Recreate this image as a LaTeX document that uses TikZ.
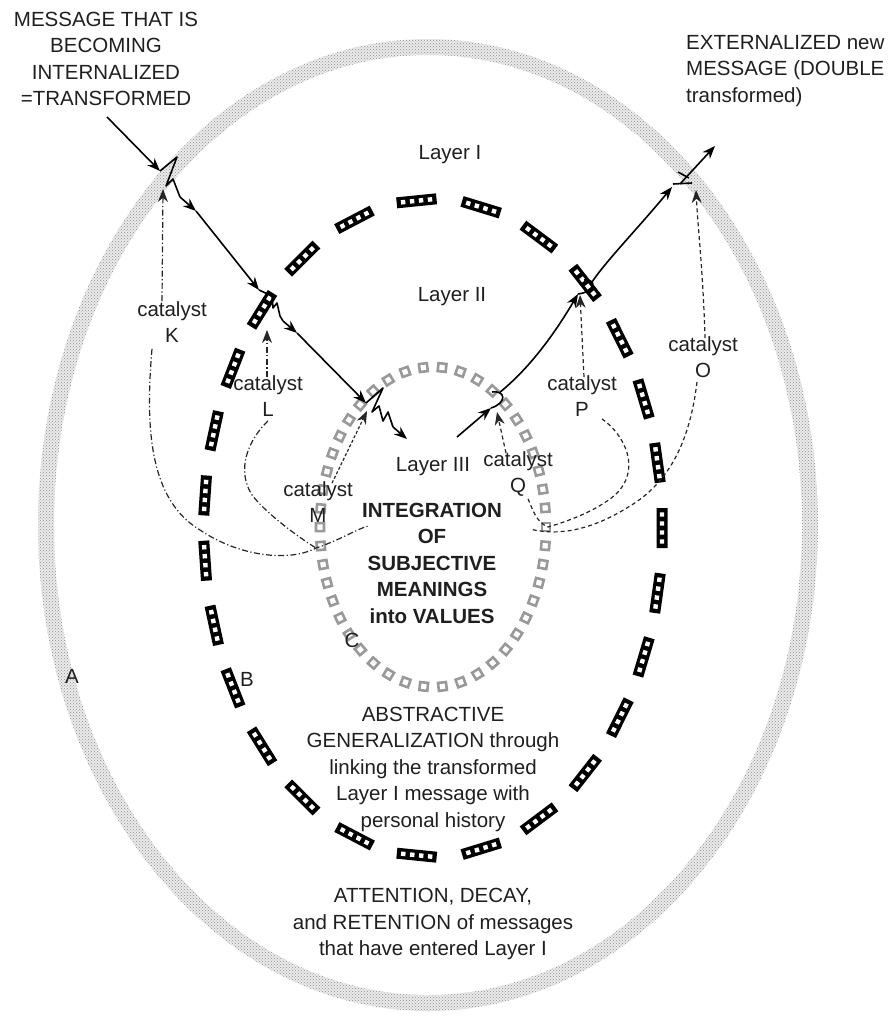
\documentclass[tikz,border=0pt]{standalone}
\usepackage{fontspec}
\setmainfont{Liberation Sans}
\usetikzlibrary{arrows.meta,decorations.markings,patterns}

\begin{document}
\begin{tikzpicture}[x=1pt,y=-1pt,
  txt/.style={font=\fontsize{20.5}{26.5}\selectfont, text=black!88, align=center, inner sep=0pt},
  btxt/.style={font=\fontsize{20.5}{26.5}\selectfont\bfseries, text=black!88, align=center, inner sep=0pt},
  msg/.style={line width=1.6pt, black, line join=round},
  tip/.style={-{Stealth[length=13pt,width=10pt]}},
  cat/.style={line width=1.2pt, black!85, dash pattern=on 4pt off 3pt},
  catdd/.style={line width=1.2pt, black!85, dash pattern=on 6pt off 2.5pt on 1.2pt off 2.5pt},
  filmdash/.style={postaction={decorate}, decoration={markings,
    mark=between positions 0 and 0.99 step 1/27 with {
      \fill[black] (-20,-5.5) rectangle (20,5.5);
      \foreach \u in {-13.5,-4.5,4.5,13.5}
        \fill[white] (\u-2.2,-2.2) rectangle (\u+2.2,2.2);
    }}},
  boxring/.style={postaction={decorate}, decoration={markings,
    mark=between positions 0 and 0.99 step 1/46 with {
      \draw[black!40, line width=2.6pt] (-4,-4) rectangle (4,4);
    }}},
]
\useasboundingbox (0,0) rectangle (895,1017);

% ---- layer A: stippled outer ring
\coordinate (cA) at (428,525);
\path[fill=black!8, even odd rule]
  (cA) ellipse [x radius=390, y radius=486]
  (cA) ellipse [x radius=374, y radius=470];
\path[pattern=crosshatch dots, pattern color=black!45, even odd rule]
  (cA) ellipse [x radius=390, y radius=486]
  (cA) ellipse [x radius=374, y radius=470];

% ---- layer B: film-strip dashes
\coordinate (cB) at (433,528);
\path[filmdash] (cB) ellipse [x radius=229, y radius=328];

% ---- layer C: ring of hollow squares
\coordinate (cC) at (433,527);
\path[boxring] (cC) ellipse [x radius=113, y radius=160];

% ---- texts
\node[txt] (msgin) at (106,59) {MESSAGE THAT IS\\BECOMING\\INTERNALIZED\\=TRANSFORMED};
\node[txt, align=left, anchor=west] (msgout) at (686,71) {EXTERNALIZED new\\MESSAGE (DOUBLE\\transformed)};
\node[txt] (l1) at (450,155) {Layer I};
\node[txt] (l2) at (452,297) {Layer II};
\node[txt] (l3) at (433,467) {Layer III};
\node[txt] (catK) at (172,322) {catalyst\\K};
\node[txt] (catL) at (268,396) {catalyst\\L};
\node[txt] (catM) at (318,502) {catalyst\\M};
\node[txt] (catQ) at (518,474) {catalyst\\Q};
\node[txt] (catP) at (582,396) {catalyst\\P};
\node[txt] (catO) at (703,357) {catalyst\\O};
\node[btxt] (integ) at (432,563) {INTEGRATION\\OF\\SUBJECTIVE\\MEANINGS\\into VALUES};
\node[txt] (labA) at (72,676) {A};
\node[txt] (labB) at (247,679) {B};
\node[txt] (labC) at (352,640) {C};
\node[txt] (abstr) at (433,769) {ABSTRACTIVE\\GENERALIZATION through\\linking the transformed\\Layer I message with\\personal history};
\node[txt] (atten) at (433,924) {ATTENTION, DECAY,\\and RETENTION of messages\\that have entered Layer I};

% ---- incoming message path
\coordinate (in0) at (107,117);
\coordinate (in1) at (160,171);
\coordinate (in2) at (180,197);
\coordinate (in3) at (196,211);
\coordinate (in4) at (259,290);
\coordinate (in5) at (283,321);
\coordinate (in6) at (297,333);
\coordinate (in7) at (366,403);
\coordinate (in8) at (393,427);
\coordinate (in9) at (407,439);

\draw[msg, tip] (in0) -- (in1);
\draw[msg] (in1) -- ++(17,-14) -- ++(-11,29) -- ++(7,-7) -- (in2);
\draw[msg, tip] (in2) -- (in3);
\draw[msg, tip] (in3) -- (in4);
\draw[msg] (in4) -- ++(13,6) -- ++(1,12) -- ++(4,-5) -- ++(3,13) -- (in5);
\draw[msg, tip] (in5) -- (in6);
\draw[msg, tip] (in6) -- (in7);
\draw[msg] (in7) -- ++(17,-15) -- ++(-11,24) -- ++(7,-6) -- ++(4,15) -- ++(5,-9) -- (in8);
\draw[msg, tip] (in8) -- (in9);

% ---- outgoing message path
\coordinate (ex0) at (457,437);
\coordinate (ex1) at (491,408);
\coordinate (ex2) at (499,393);
\coordinate (ex3) at (578,294);
\coordinate (ex4) at (592,282);
\coordinate (ex5) at (672,187);
\coordinate (ex6) at (692,183);
\coordinate (ex7) at (680,184);
\coordinate (ex8) at (715,146);

\draw[msg, tip] (ex0) -- (ex1);
\draw[msg] (ex1) .. controls (507,403) and (506,390) .. (492,392);
\draw[msg, tip] (ex2) .. controls (530,368) and (555,333) .. (ex3);
\draw[msg] (ex3) .. controls (595,292) and (598,279) .. (584,280);
\draw[msg, tip] (ex4) .. controls (606,261) and (640,226) .. (ex5);
\draw[msg] (ex5) ++(1,-3) -- (ex6);
\draw[msg, tip] (ex7) -- (ex8);
\draw[msg] (ex7) ++(-2,-12) -- ++(11,6);

% ---- catalysts on the left
\coordinate (kTip) at (163,189);
\coordinate (lTip) at (267,330);
\coordinate (mTip) at (367,411);
\coordinate (jLeft) at (316,548);
\coordinate (jK) at (368,526);
\draw[catdd, tip] (catK.north) ++(-10,0) -- (kTip);
\draw[catdd, tip] (catL.north) ++(-1,2) -- (lTip);
\draw[cat, densely dashed, tip] (catM.north) ++(14,2) -- (mTip);
\draw[catdd] (catK.south) ++(-20,6) .. controls (145,430) and (150,500) .. (200,530)
  .. controls (240,557) and (290,562) .. (jLeft) .. controls (340,540) and (355,530) .. (jK);
\draw[catdd] (catL.south) ++(0,4) .. controls (248,440) and (236,470) .. (252,495)
  .. controls (265,512) and (295,535) .. (jLeft);

% ---- catalysts on the right
\coordinate (qTip) at (497,412);
\coordinate (pTip) at (580,295);
\coordinate (oTip) at (696,190);
\coordinate (jQ) at (548,527);
\coordinate (jO) at (530,529);
\draw[cat, tip] (catQ.north) ++(-12,2) -- (qTip);
\draw[cat, tip] (catP.north) ++(2,2) -- (pTip);
\draw[cat, tip] (catO.north) ++(2,2) .. controls (703,270) and (698,230) .. (oTip);
\draw[cat] (catQ.south) ++(10,2) .. controls (533,510) and (536,522) .. (jQ);
\draw[cat] (catP.south) ++(20,2) .. controls (625,435) and (642,470) .. (615,495)
  .. controls (595,512) and (565,522) .. (jQ);
\draw[cat] (catO.south) ++(-6,4) .. controls (690,440) and (670,482) .. (630,506)
  .. controls (600,525) and (565,538) .. (jO);
\end{tikzpicture}
\end{document}
